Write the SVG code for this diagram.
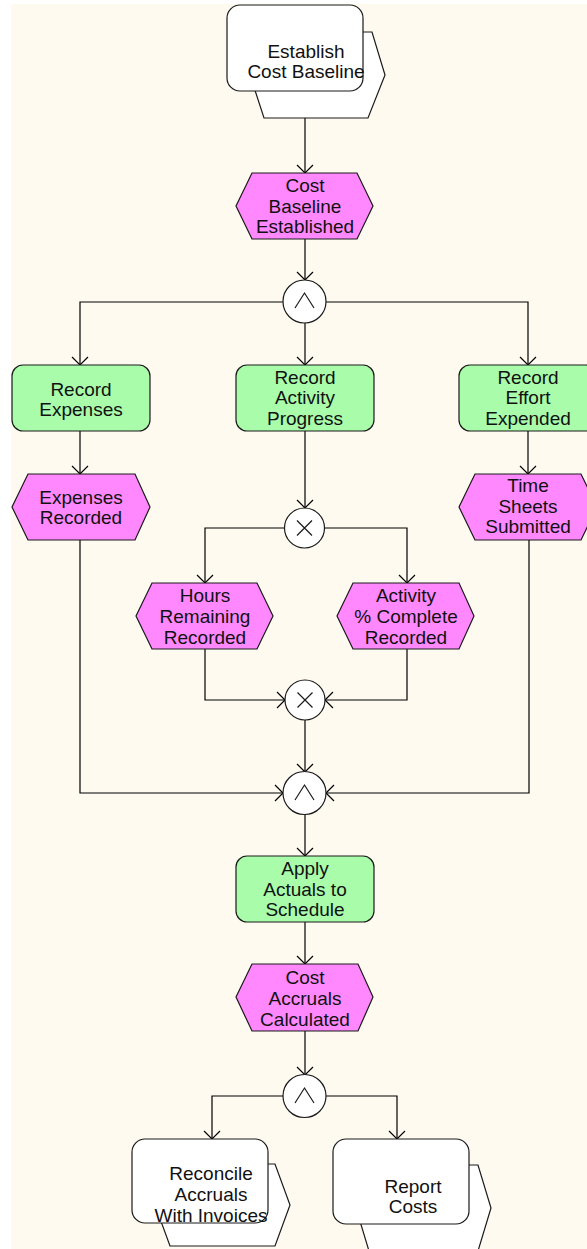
<svg xmlns="http://www.w3.org/2000/svg" width="587" height="1249" viewBox="0 0 587 1249">
  <style>
    .bg { fill: #FFFAF0; }
    .proc { fill: #FFFFFF; stroke: #1A1A1A; stroke-width: 1.2; }
    .func { fill: #A9FCA9; stroke: #1A1A1A; stroke-width: 1.2; }
    .event { fill: #FF88FF; stroke: #1A1A1A; stroke-width: 1.2; }
    .gate { fill: #FFFFFF; stroke: #1A1A1A; stroke-width: 1.2; }
    .sym { fill: none; stroke: #1A1A1A; stroke-width: 1.2; }
    .edge { fill: none; stroke: #000000; stroke-width: 1.2; marker-end: url(#chev); }
    text { font-family: "Liberation Sans", Arial, sans-serif; font-size: 19px; fill: #111111; text-anchor: middle; }
  </style>
  <defs>
    <marker id="chev" viewBox="-10 -10 20 20" refX="0" refY="0" markerWidth="20" markerHeight="20" markerUnits="userSpaceOnUse" orient="auto">
      <path d="M-8,-8 L0,0 L-8,8" fill="none" stroke="#000000" stroke-width="1.2"/>
    </marker>
  </defs>

  <rect class="bg" x="11" y="4" width="576" height="1245"/>

  <g id="connectors">
    <path class="edge" d="M305,118 V173"/>
    <path class="edge" d="M305,239 V280"/>
    <path class="edge" d="M283,302 H80 V365"/>
    <path class="edge" d="M305,323 V365"/>
    <path class="edge" d="M326,302 H528 V365"/>
    <path class="edge" d="M80,431 V474"/>
    <path class="edge" d="M305,431 V508"/>
    <path class="edge" d="M528,431 V474"/>
    <path class="edge" d="M285,528 H205 V583"/>
    <path class="edge" d="M325,528 H407 V583"/>
    <path class="edge" d="M205,649 V700 H285"/>
    <path class="edge" d="M407,649 V700 H325"/>
    <path class="edge" d="M305,720 V772"/>
    <path class="edge" d="M80,540 V793 H283"/>
    <path class="edge" d="M529,540 V793 H326"/>
    <path class="edge" d="M305,814 V856"/>
    <path class="edge" d="M305,922 V964"/>
    <path class="edge" d="M305,1031 V1075"/>
    <path class="edge" d="M283,1096 H212 V1139"/>
    <path class="edge" d="M326,1096 H397 V1139"/>
  </g>

  <g id="establish-cost-baseline">
    <polygon class="proc" points="263,32 372,32 385,75 368,118 264,118 250,75"/>
    <rect class="proc" x="227" y="5" width="136" height="86" rx="13"/>
    <text x="306"><tspan x="306" y="58">Establish</tspan><tspan x="306" y="78">Cost Baseline</tspan></text>
  </g>

  <g id="cost-baseline-established">
    <polygon class="event" points="252,173 357,173 373,206 357,239 252,239 236,206"/>
    <text><tspan x="305" y="192">Cost</tspan><tspan x="305" y="213">Baseline</tspan><tspan x="305" y="233">Established</tspan></text>
  </g>

  <g id="and-split">
    <circle class="gate" cx="304.5" cy="301.5" r="21.5"/>
    <path class="sym" d="M295,308 L304.5,293 L314,308"/>
  </g>

  <g id="record-expenses">
    <rect class="func" x="12" y="365" width="138" height="66" rx="11"/>
    <text><tspan x="81" y="396">Record</tspan><tspan x="81" y="416">Expenses</tspan></text>
  </g>

  <g id="record-activity-progress">
    <rect class="func" x="236" y="365" width="138" height="66" rx="11"/>
    <text><tspan x="305" y="384">Record</tspan><tspan x="305" y="404">Activity</tspan><tspan x="305" y="425">Progress</tspan></text>
  </g>

  <g id="record-effort-expended">
    <rect class="func" x="459" y="365" width="138" height="66" rx="11"/>
    <text><tspan x="528" y="384">Record</tspan><tspan x="528" y="404">Effort</tspan><tspan x="528" y="425">Expended</tspan></text>
  </g>

  <g id="expenses-recorded">
    <polygon class="event" points="28,474 135,474 150,507 135,540 28,540 12,507"/>
    <text><tspan x="81" y="504">Expenses</tspan><tspan x="81" y="524">Recorded</tspan></text>
  </g>

  <g id="time-sheets-submitted">
    <polygon class="event" points="475,474 581,474 597,507 581,540 475,540 459,507"/>
    <text><tspan x="528" y="492">Time</tspan><tspan x="528" y="513">Sheets</tspan><tspan x="528" y="533">Submitted</tspan></text>
  </g>

  <g id="xor-split">
    <circle class="gate" cx="304.5" cy="528" r="20"/>
    <path class="sym" d="M297,520.5 L312,535.5 M312,520.5 L297,535.5"/>
  </g>

  <g id="hours-remaining-recorded">
    <polygon class="event" points="152,583 257,583 273,616 257,649 152,649 136,616"/>
    <text><tspan x="205" y="602">Hours</tspan><tspan x="205" y="623">Remaining</tspan><tspan x="205" y="644">Recorded</tspan></text>
  </g>

  <g id="activity-complete-recorded">
    <polygon class="event" points="353,583 459,583 474,616 459,649 353,649 337,616"/>
    <text><tspan x="406" y="602">Activity</tspan><tspan x="406" y="623">% Complete</tspan><tspan x="406" y="644">Recorded</tspan></text>
  </g>

  <g id="xor-join">
    <circle class="gate" cx="305" cy="700" r="20"/>
    <path class="sym" d="M297.5,692.5 L312.5,707.5 M312.5,692.5 L297.5,707.5"/>
  </g>

  <g id="and-join">
    <circle class="gate" cx="304.5" cy="793" r="21.5"/>
    <path class="sym" d="M295,800 L304.5,785 L314,800"/>
  </g>

  <g id="apply-actuals-to-schedule">
    <rect class="func" x="236" y="856" width="138" height="66" rx="11"/>
    <text><tspan x="305" y="875">Apply</tspan><tspan x="305" y="896">Actuals to</tspan><tspan x="305" y="916">Schedule</tspan></text>
  </g>

  <g id="cost-accruals-calculated">
    <polygon class="event" points="252,964 358,964 373,997 358,1031 252,1031 236,997"/>
    <text><tspan x="305" y="984">Cost</tspan><tspan x="305" y="1005">Accruals</tspan><tspan x="305" y="1026">Calculated</tspan></text>
  </g>

  <g id="and-split-final">
    <circle class="gate" cx="304.5" cy="1096" r="21.5"/>
    <path class="sym" d="M295,1103 L304.5,1088 L314,1103"/>
  </g>

  <g id="reconcile-accruals">
    <polygon class="proc" points="169,1164 275,1164 290,1205 275,1246 170,1246 155,1205"/>
    <rect class="proc" x="132" y="1139" width="136" height="84" rx="13"/>
    <text><tspan x="211" y="1180">Reconcile</tspan><tspan x="211" y="1201">Accruals</tspan><tspan x="211" y="1222">With Invoices</tspan></text>
  </g>

  <g id="report-costs">
    <polygon class="proc" points="369,1165 478,1165 491,1208 478,1251 369,1251 356,1208"/>
    <rect class="proc" x="333" y="1139" width="136" height="85" rx="13"/>
    <text><tspan x="413" y="1193">Report</tspan><tspan x="413" y="1213">Costs</tspan></text>
  </g>
</svg>
